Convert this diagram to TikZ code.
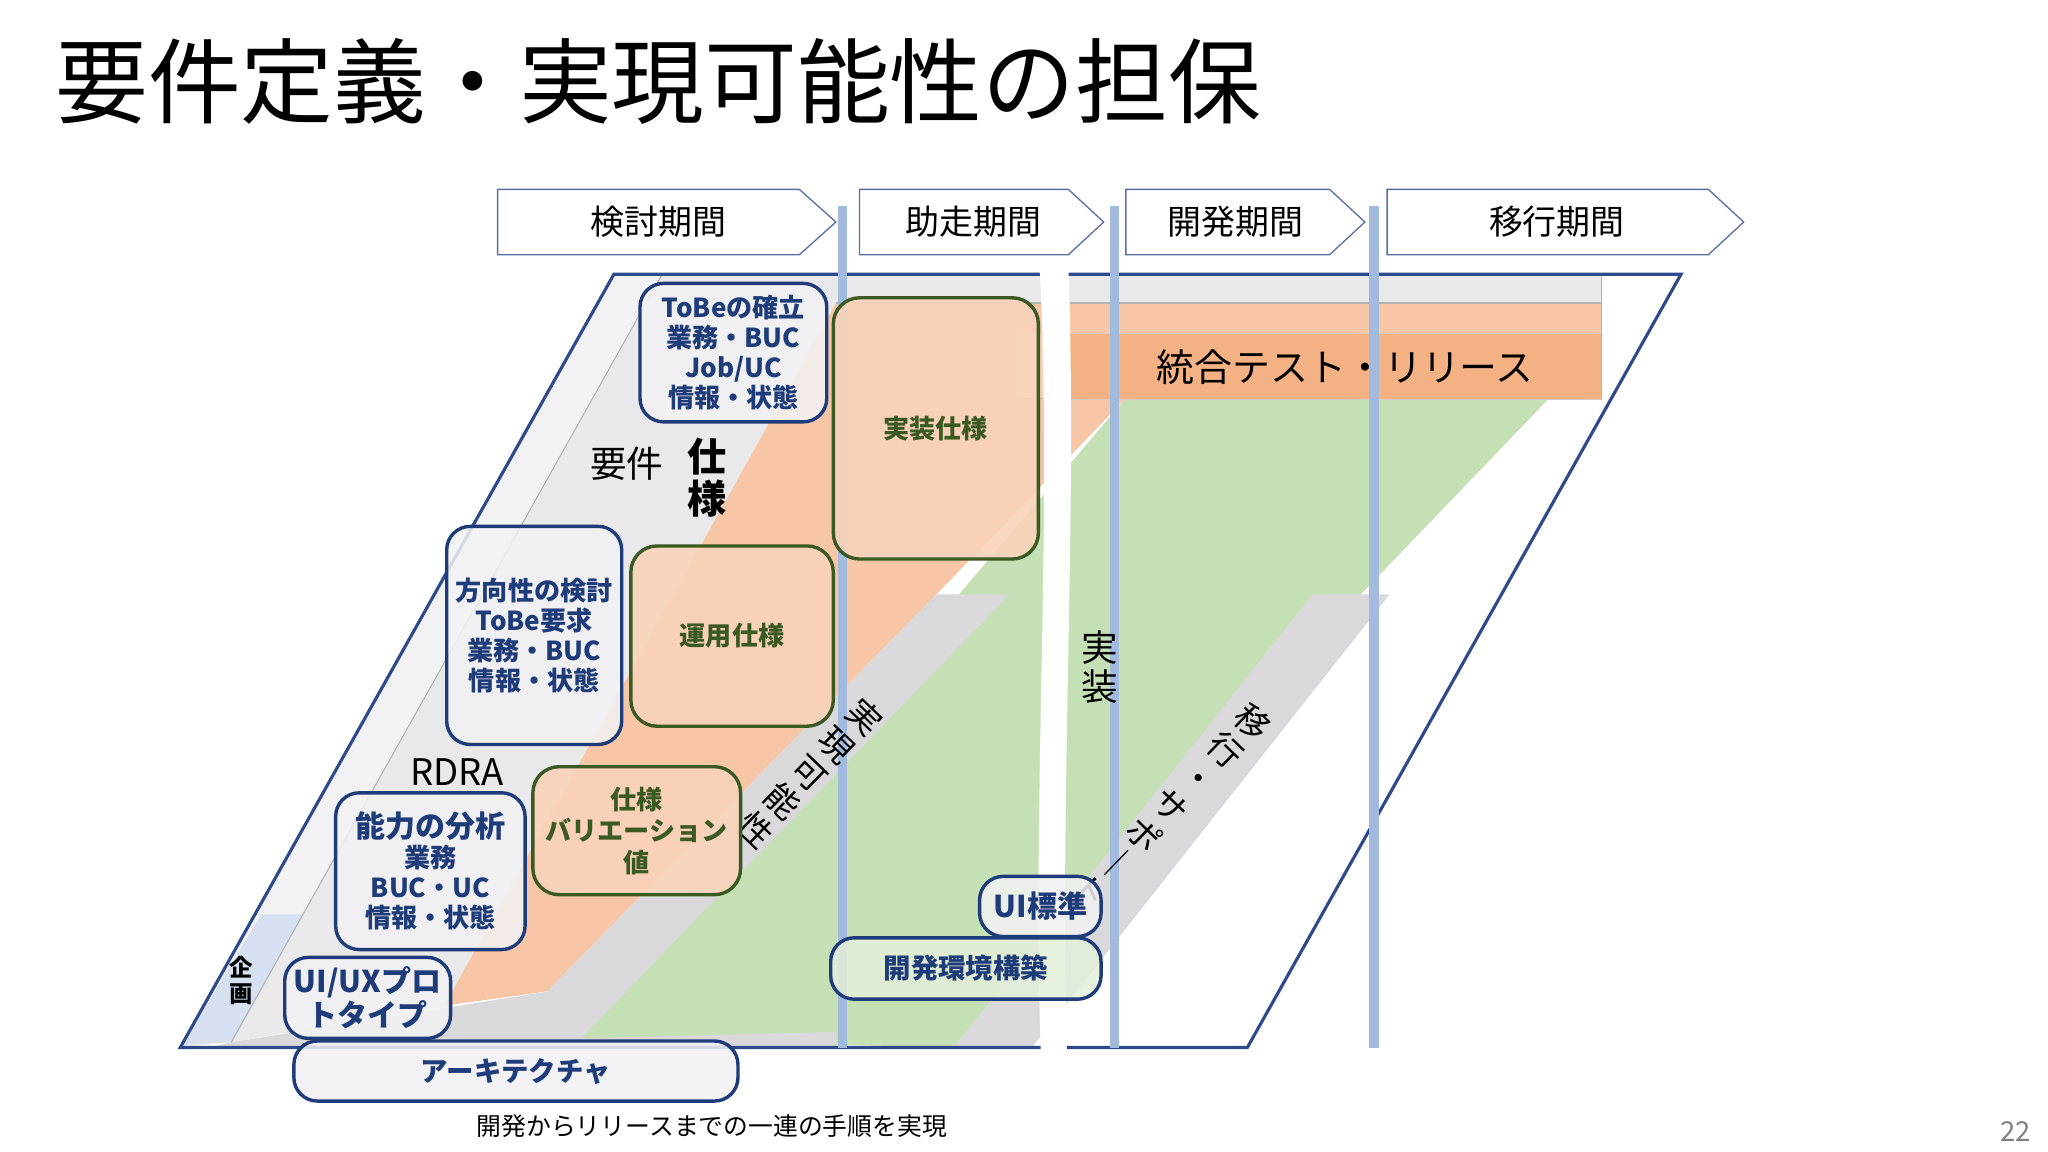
\documentclass[tikz,border=0pt]{standalone}
\usepackage{fontspec}
\setmainfont{Noto Sans CJK JP}
\usetikzlibrary{positioning}
\definecolor{navy}{HTML}{1F3C7A}
\definecolor{dgreen}{HTML}{3B5A23}
\definecolor{divb}{HTML}{A3BADF}
\definecolor{oran}{HTML}{F7C6A7}
\definecolor{oranl}{HTML}{F9D3BA}
\definecolor{orand}{HTML}{F4B183}
\definecolor{grn}{HTML}{C5E0B4}
\definecolor{lg}{HTML}{E9E9EC}
\definecolor{lg2}{HTML}{F2F2F4}
\definecolor{mg}{HTML}{D9D9DC}
\definecolor{edge}{HTML}{2F4A8A}
\tikzset{
 phase/.style={draw=edge!80,line width=0.5pt,fill=white},
 bluebox/.style={draw=navy,line width=1.3pt,rounded corners=9pt,fill=lg2,fill opacity=0.85,text opacity=1,text=navy,font=\bfseries\fontsize{10}{11.5}\selectfont,align=center,inner sep=0pt},
 greenbox/.style={draw=dgreen,line width=1.3pt,rounded corners=10pt,fill=oranl,fill opacity=0.9,text opacity=1,text=dgreen,font=\bfseries\fontsize{10}{12}\selectfont,align=center,inner sep=0pt},
 lbl/.style={font=\fontsize{14}{15}\selectfont,inner sep=0pt},
 divider/.style={draw=divb,line width=3.5pt},
}
\begin{document}
\begin{tikzpicture}[x=0.5pt,y=-0.5pt]
\useasboundingbox (0,0) rectangle (1568,882);
\fill[white] (0,0) rectangle (1568,882);
\node[anchor=west,font=\fontsize{35.5}{38}\selectfont,inner sep=0pt] (title) at (42,62) {要件定義・実現可能性の担保};
% phases
\draw[phase] (381,145) -- (612,145) -- (640,170) -- (612,195) -- (381,195) -- cycle;
\draw[phase] (658,145) -- (818,145) -- (845,170) -- (818,195) -- (658,195) -- cycle;
\draw[phase] (862,145) -- (1018,145) -- (1045,170) -- (1018,195) -- (862,195) -- cycle;
\draw[phase] (1062,145) -- (1308,145) -- (1335,170) -- (1308,195) -- (1062,195) -- cycle;
\node[font=\fontsize{13}{14}\selectfont] (p1) at (504,170) {検討期間};
\node[font=\fontsize{13}{14}\selectfont] (p2) at (745,170) {助走期間};
\node[font=\fontsize{13}{14}\selectfont] (p3) at (946,170) {開発期間};
\node[font=\fontsize{13}{14}\selectfont] (p4) at (1192,170) {移行期間};
% outer
\fill[white] (138,802) -- (470,210) -- (1287,210) -- (955,802) -- cycle;
\fill[lg2] (138,802) -- (470,210) -- (507,210) -- (177,798) -- cycle;
\fill[lg] (177,798) -- (507,210) -- (1226,210) -- (1226,232) -- (640,232) -- (340,770) -- cycle;
\fill[divb!45] (140,800) -- (200,700) -- (232,700) -- (178,798) -- cycle;
\fill[grn] (445,795) -- (861,306) -- (1185,306) -- (1042,455) -- (730,802) -- cycle;
\fill[oran] (340,770) -- (640,232) -- (1226,232) -- (1226,306) -- (861,306) -- (717,455) -- (419,759) -- cycle;
\fill[mg] (419,759) -- (717,455) -- (773,455) -- (445,795) -- cycle;
\fill[mg] (1005,455) -- (1064,455) -- (790,802) -- (730,802) -- cycle;
\fill[mg] (160,802) -- (177,798) -- (420,759) -- (445,795) -- (640,790) -- (640,802) -- cycle;
\draw[gray!60,line width=0.4pt] (177,798) -- (507,210);
\draw[gray!60,line width=0.4pt] (640,232) -- (1226,232);
\draw[orand!70!black!40,fill=orand] (778,255) rectangle (1226,306);
\fill[oranl] (778,256) rectangle (806,305);
\draw[gray!60,line width=0.4pt] (1226,210) -- (1226,306);
\draw[edge,line width=1.2pt] (138,802) -- (470,210) -- (1287,210) -- (955,802) -- cycle;
\node[font=\fontsize{14.5}{15}\selectfont] (it) at (1030,281) {統合テスト・リリース};
% dividers
\draw[divider] (645,158) -- (645,802);
\draw[divider] (853,158) -- (853,802);
\draw[divider] (1052,158) -- (1052,802);
% white gap
\fill[white] (796,205) .. controls (806,400) and (790,600) .. (797,812) -- (817,812) .. controls (811,600) and (825,400) .. (818,205) -- cycle;
% labels
\node[lbl] (yk) at (480,355) {要件};
\node[lbl,font=\bfseries\fontsize{15}{16}\selectfont,align=center] (sy) at (541,366) {仕\\様};
\node[lbl] (rdra) at (350,591) {RDRA};
\node[lbl,align=center] (jis) at (842,511) {実\\装};
\node[font=\bfseries\fontsize{9}{10}\selectfont,align=center,inner sep=0pt] (kik) at (185,751) {企\\画};
\node[lbl,rotate=-44,align=center,font=\fontsize{13}{15}\selectfont] (jg) at (620,592) {実\\現\\可\\能\\性};
\node[lbl,rotate=-44,align=center,font=\fontsize{13}{15}\selectfont] (ik) at (897,617) {移\\行\\・\\サ\\ポ\\｜\\ト};
% boxes
\node[bluebox,minimum width=71.5pt,minimum height=53pt] (b1) at (561.5,270) {ToBeの確立\\業務・BUC\\Job/UC\\情報・状態};
\node[bluebox,minimum width=67pt,minimum height=83.5pt] (b2) at (409,486.5) {方向性の検討\\ToBe要求\\業務・BUC\\情報・状態};
\node[bluebox,minimum width=72.5pt,minimum height=60pt] (b3) at (329.5,667) {{\fontsize{11.5}{13}\selectfont 能力の分析}\\業務\\BUC・UC\\情報・状態};
\node[bluebox,minimum width=63.5pt,minimum height=31pt,font=\bfseries\fontsize{11.5}{13}\selectfont] (b4) at (281.5,764) {UI/UXプロ\\トタイプ};
\node[bluebox,minimum width=170pt,minimum height=23pt,font=\bfseries\fontsize{10.5}{12}\selectfont] (b5) at (395,820) {アーキテクチャ};
\node[bluebox,minimum width=46.5pt,minimum height=23pt,font=\bfseries\fontsize{11.5}{12}\selectfont] (b6) at (796.5,694) {UI標準};
\node[bluebox,minimum width=103.5pt,minimum height=23.5pt,font=\bfseries\fontsize{10.5}{12}\selectfont,fill=grn!50] (b7) at (739.5,741.5) {開発環境構築};
\node[greenbox,minimum width=78.5pt,minimum height=100pt] (g1) at (716.5,328) {実装仕様};
\node[greenbox,minimum width=77.5pt,minimum height=69pt] (g2) at (560.5,487) {運用仕様};
\node[greenbox,minimum width=79.5pt,minimum height=49pt] (g3) at (487.5,636) {仕様\\バリエーション\\値};
\node[font=\fontsize{9.5}{11}\selectfont] (cap) at (545,862) {開発からリリースまでの一連の手順を実現};
\node[font=\fontsize{10.5}{11}\selectfont,text=gray] (pg) at (1543,866) {22};
\end{tikzpicture}
\end{document}
